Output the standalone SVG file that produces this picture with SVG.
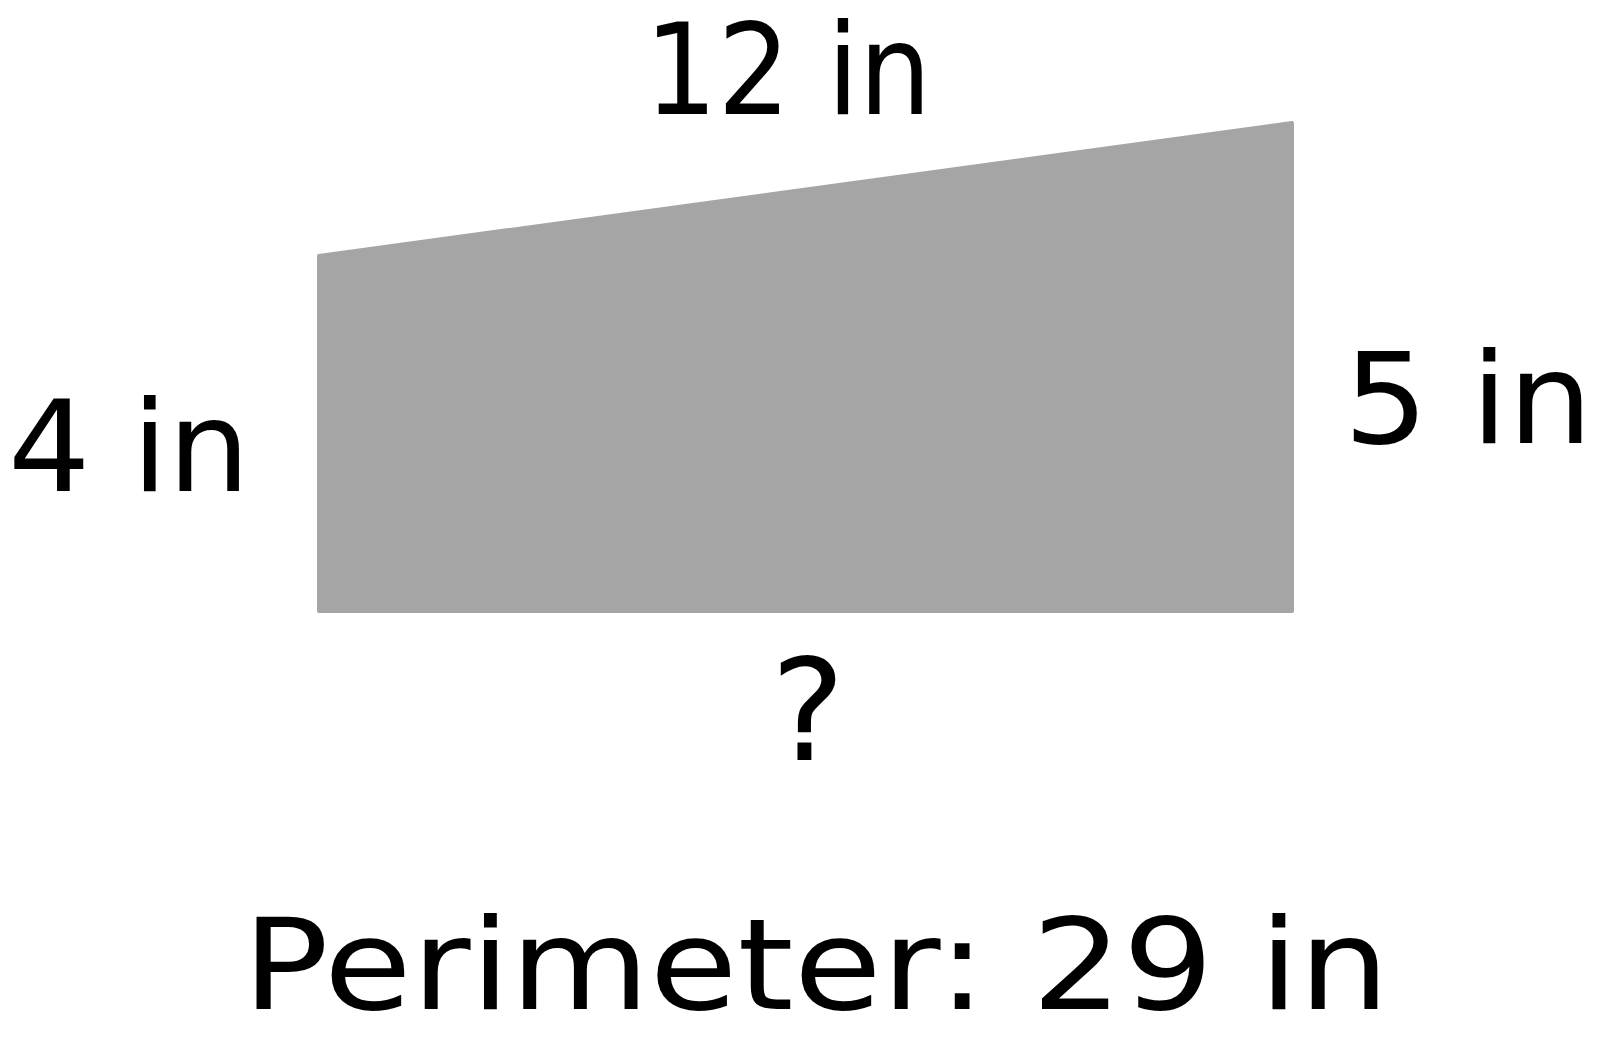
<svg xmlns="http://www.w3.org/2000/svg" width="1600" height="1051" viewBox="0 0 1600 1051">
<style>
.lbl{font-family:"DejaVu Sans","Liberation Sans",sans-serif;font-size:126px;fill:#000;text-anchor:middle}
</style>
<rect width="1600" height="1051" fill="#fff"/>
<g id="shape">
<polygon points="319,256 1292,123 1292,611 319,611" fill="#a5a5a5" stroke="#a5a5a5" stroke-width="4" stroke-linejoin="round"/>
</g>
<g id="labels">
<text id="top" class="lbl" x="788" y="114" textLength="287" lengthAdjust="spacingAndGlyphs">12 in</text>
<text id="left" class="lbl" x="129" y="491" textLength="242" lengthAdjust="spacingAndGlyphs">4 in</text>
<text id="right" class="lbl" x="1468" y="443" textLength="249" lengthAdjust="spacingAndGlyphs">5 in</text>
<text id="bottom" class="lbl" x="808" y="760" style="font-size:140px">?</text>
<text id="perimeter" class="lbl" x="816" y="1009" textLength="1147" lengthAdjust="spacingAndGlyphs">Perimeter: 29 in</text>
</g>
</svg>
